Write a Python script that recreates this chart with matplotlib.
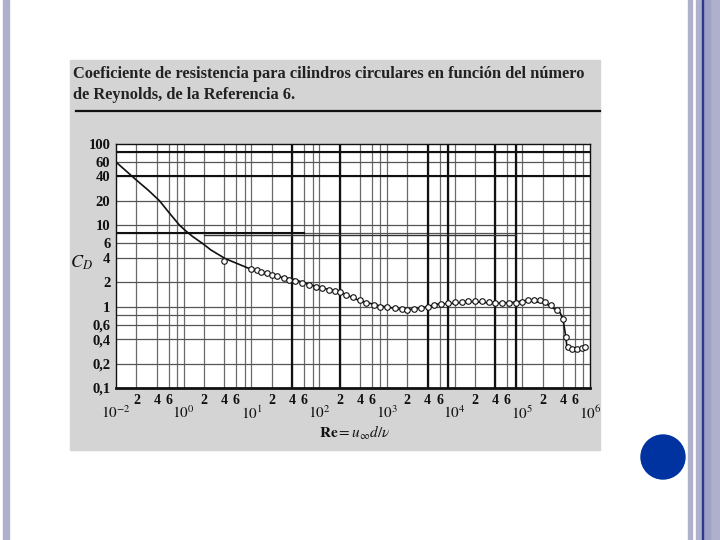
import matplotlib
matplotlib.use("Agg")
import matplotlib.pyplot as plt
from matplotlib.patches import Rectangle, Ellipse
import matplotlib.transforms as mtransforms

# --- data ---
curve_re = [0.1, 0.2, 0.3, 0.44, 0.6, 0.87, 1.1, 1.35, 2.0, 2.5, 4.1, 9.3, 20, 43, 71,
            110, 210, 390, 760, 1800, 3200, 5800, 1e4, 1.6e4, 4e4, 7.4e4, 1.2e5, 2.2e5,
            3.6e5, 4e5, 4.4e5, 4.6e5, 6e5, 8.5e5]
curve_cd = [60, 36, 27, 20, 14.5, 10, 8.4, 7.3, 5.8, 5.0, 3.9, 2.94, 2.4, 2.16, 1.87,
            1.7, 1.5, 1.19, 1.03, 0.91, 0.96, 1.08, 1.1, 1.16, 1.1, 1.13, 1.2, 1.1,
            0.85, 0.7, 0.42, 0.3, 0.3, 0.31]

points_re = [4, 10, 12, 14, 17, 20, 24, 30, 36, 44, 55, 70, 90, 110, 140, 170, 200, 250,
             320, 400, 500, 650, 800, 1000, 1300, 1700, 2000, 2500, 3200, 4000, 5000,
             6300, 8000, 1e4, 1.3e4, 1.6e4, 2e4, 2.5e4, 3.2e4, 4e4, 5e4, 6.3e4, 8e4,
             1e5, 1.2e5, 1.5e5, 1.8e5, 2.2e5, 2.7e5, 3.3e5, 4e5, 4.4e5, 4.7e5, 5.5e5,
             6.5e5, 7.5e5, 8.5e5]
points_cd = [3.6, 2.9, 2.8, 2.7, 2.6, 2.45, 2.35, 2.25, 2.15, 2.05, 1.95, 1.85, 1.75, 1.7,
             1.62, 1.55, 1.5, 1.4, 1.3, 1.2, 1.12, 1.05, 1.0, 0.98, 0.95, 0.93, 0.92,
             0.94, 0.97, 1.0, 1.05, 1.08, 1.1, 1.13, 1.15, 1.16, 1.17, 1.17, 1.15, 1.12,
             1.1, 1.1, 1.12, 1.15, 1.2, 1.22, 1.2, 1.15, 1.05, 0.9, 0.7, 0.42, 0.32,
             0.3, 0.3, 0.31, 0.32]

y_ticks = [100, 60, 40, 20, 10, 6, 4, 2, 1, 0.6, 0.4, 0.2, 0.1]
y_labels = ["100", "60", "40", "20", "10", "6", "4", "2", "1", "0,6", "0,4", "0,2", "0,1"]
decades = [0.1, 1, 10, 100, 1e3, 1e4, 1e5, 1e6]
decade_labels = [r"$10^{-2}$", r"$10^{0}$", r"$10^{1}$", r"$10^{2}$", r"$10^{3}$",
                 r"$10^{4}$", r"$10^{5}$", r"$10^{6}$"]
minor_labels = ["2", "4", "6"]

plt.rcParams["font.family"] = ["Liberation Serif", "DejaVu Serif"]
plt.rcParams["mathtext.fontset"] = "stix"

W, H = 720, 540
fig = plt.figure(figsize=(7.2, 5.4), dpi=100)
fig.patch.set_facecolor("white")

def fx(x):
    return x / W

def fy(y):
    return 1 - y / H

# slide decoration
lav = "#aeb0cc"
fig.patches.append(Rectangle((fx(3), 0), 6 / W, 1, transform=fig.transFigure, color=lav, zorder=0))
fig.patches.append(Rectangle((fx(688), 0), 4 / W, 1, transform=fig.transFigure, color=lav, zorder=0))
fig.patches.append(Rectangle((fx(696), 0), 24 / W, 1, transform=fig.transFigure, color=lav, zorder=0))
fig.patches.append(Rectangle((fx(703), 0), 7 / W, 1, transform=fig.transFigure, color="#9da1c6", zorder=0))
fig.patches.append(Rectangle((fx(701.5), 0), 1.5 / W, 1, transform=fig.transFigure, color="#2b3a8c", zorder=0))
fig.patches.append(Ellipse((fx(663), fy(457)), 44 / W, 44 / H, transform=fig.transFigure,
                           color="#0033a0", zorder=1))
# scanned page background
fig.patches.append(Rectangle((fx(70), fy(450)), 530 / W, 390 / H, transform=fig.transFigure,
                             color="#d4d4d4", zorder=0))

# caption of the scan
fig.text(fx(73), fy(74), "Coeficiente de resistencia para cilindros circulares en función del número",
         fontsize=11.8, fontweight="bold", va="center", ha="left", color="#222222")
fig.text(fx(73), fy(95), "de Reynolds, de la Referencia 6.",
         fontsize=11.8, fontweight="bold", va="center", ha="left", color="#222222")
fig.lines.append(plt.Line2D([fx(76), fx(600)], [fy(111), fy(111)], transform=fig.transFigure,
                            color="#111111", lw=1.6))

ax = fig.add_axes([fx(116), fy(388), (590 - 116) / W, (388 - 144) / H])
ax.set_zorder(5)
ax.set_facecolor("white")
ax.set_xscale("log")
ax.set_yscale("log")
ax.set_xlim(0.1, 1e6)
ax.set_ylim(0.1, 100)

# grid at 1, 2, 4, 6, 8 in each decade
grid_mult = [1, 2, 4, 6, 8]
for k in range(-1, 6):
    for m in grid_mult:
        v = m * 10.0 ** k
        if 0.1 < v < 1e6:
            ax.axvline(v, color="#6a6a6a", lw=0.9, zorder=1)
for k in range(-1, 2):
    for m in grid_mult:
        v = m * 10.0 ** k
        if 0.1 < v < 100:
            ax.axhline(v, color="#555555", lw=0.9, zorder=1)

# darker / heavier grid lines as in the scan
for v in [40, 200, 4000, 8000, 4e4, 8e4]:
    ax.axvline(v, color="#111111", lw=1.6, zorder=1)
for v in [80, 40]:
    ax.axhline(v, color="#111111", lw=1.5, zorder=1)
ax.plot([0.1, 60], [8, 8], color="#111111", lw=1.5, zorder=1)
ax.plot([2, 8e4], [7.6, 7.6], color="#333333", lw=1.0, zorder=1)

ax.plot(curve_re, curve_cd, color="#111111", lw=1.2, zorder=3)
ax.plot(points_re, points_cd, linestyle="none", marker="o", markersize=4,
        markerfacecolor="white", markeredgecolor="#111111", markeredgewidth=0.8, zorder=4)

for side in ["left", "top", "right"]:
    ax.spines[side].set_color("#111111")
    ax.spines[side].set_linewidth(1.0)
ax.spines["bottom"].set_color("#111111")
ax.spines["bottom"].set_linewidth(2.0)

ax.set_yticks(y_ticks)
ax.set_yticklabels(y_labels)
ax.yaxis.set_minor_locator(matplotlib.ticker.NullLocator())
ax.xaxis.set_minor_locator(matplotlib.ticker.NullLocator())
ax.set_xticks([])
ax.tick_params(axis="y", length=0, pad=4, labelsize=10.5, labelcolor="#111111")
for lab in ax.get_yticklabels():
    lab.set_fontweight("bold")

trans = mtransforms.blended_transform_factory(ax.transData, fig.transFigure)
for d, lab in zip(decades, decade_labels):
    ax.text(d, fy(413), lab, transform=trans, ha="center", va="center", fontsize=11,
            color="#111111")
    if d < 1e6:
        for m, ml in zip([2, 4, 6], minor_labels):
            ax.text(d * m, fy(400), ml, transform=trans, ha="center", va="center",
                    fontsize=10, fontweight="bold", color="#111111")

fig.text(fx(355), fy(433), r"$\mathbf{Re} = u_{\infty}d/\nu$", ha="center", va="center",
         fontsize=11, color="#111111")
fig.text(fx(81), fy(263), r"$C_D$", ha="center", va="center", fontsize=13, color="#111111")

fig.savefig("out.png", dpi=100, facecolor=fig.get_facecolor())
